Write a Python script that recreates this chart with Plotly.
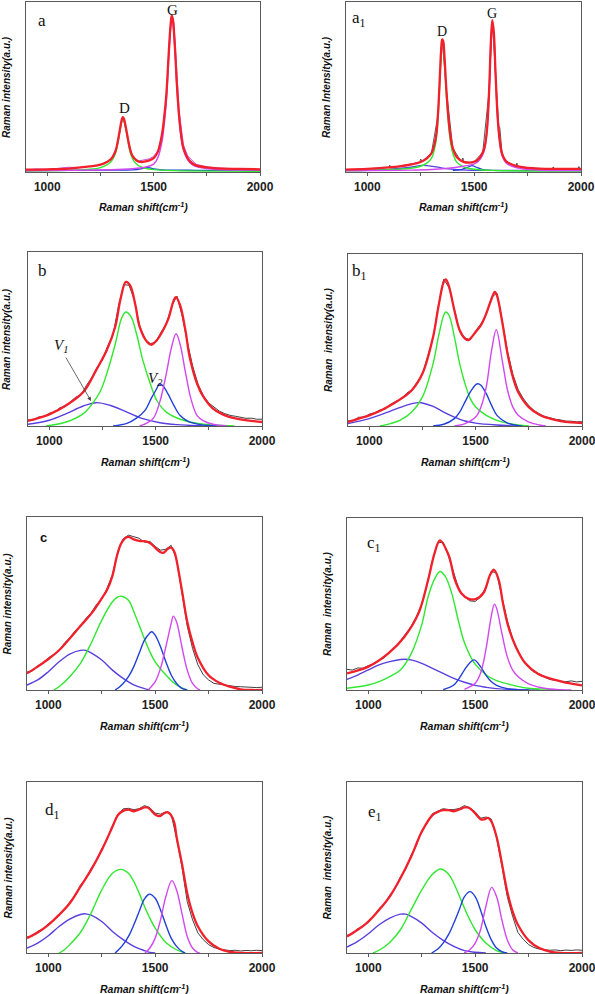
import plotly.graph_objects as go

W, H = 595, 994

# ---------------- data (normalised intensity, 0 = bottom of frame, 100 = top) ----------------
X25 = [900, 925, 950, 975, 1000, 1025, 1050, 1075, 1100, 1125, 1150, 1175, 1200, 1225, 1250,
       1275, 1300, 1325, 1350, 1375, 1400, 1425, 1450, 1475, 1500, 1525, 1550, 1575, 1600,
       1625, 1650, 1675, 1700, 1725, 1750, 1775, 1800, 1825, 1850, 1875, 1900, 1925, 1950,
       1975, 2000]

# panel a
A_FIT_X = [900, 1000, 1100, 1200, 1250, 1280, 1300, 1320, 1330, 1340, 1350, 1355, 1360, 1370, 1380,
           1390, 1400, 1420, 1440, 1460, 1480, 1500, 1520, 1540, 1550, 1560, 1570, 1580, 1585, 1590,
           1600, 1610, 1620, 1630, 1640, 1660, 1680, 1700, 1750, 1800, 1900, 2000]
A_FIT_Y = [1.4, 1.6, 2.0, 3.3, 4.3, 5.9, 7.6, 12, 17, 24, 30.7, 32.2, 31.4, 25.8, 19,
           13, 9.6, 6.8, 5.9, 6.2, 6.8, 8.2, 12, 22.8, 32.6, 46, 67.8, 87, 92, 90,
           73.6, 50, 32.6, 21, 14, 8.2, 5.3, 3.9, 2.7, 2.1, 1.8, 1.6]
A_DATA_X = [900, 950, 1000, 1050, 1100, 1150, 1200, 1250, 1300, 1330, 1355, 1380, 1400, 1430, 1460,
            1480, 1500, 1520, 1540, 1560, 1575, 1585, 1595, 1610, 1620, 1640, 1660, 1700, 1750, 1800,
            1850, 1900, 1950, 2000]
A_DATA_Y = [1.2, 1.8, 1.5, 2.3, 2.8, 2.6, 3.4, 4.0, 7.2, 16, 32.5, 18.5, 9.0, 6.5, 7.4,
            7.8, 9.2, 12.5, 22, 44, 78, 91.5, 88, 53, 36, 16, 9.5, 4.5, 3.0, 2.4,
            2.0, 1.7, 1.9, 1.5]
A_D_X = [900, 1100, 1200, 1250, 1280, 1300, 1320, 1330, 1340, 1350, 1355, 1360, 1370, 1380, 1390,
         1400, 1420, 1440, 1460, 1500, 1600, 1800, 2000]
A_D_Y = [0.6, 1.0, 1.6, 2.6, 4.2, 6.2, 10.8, 15.8, 23, 29.7, 31.2, 30.3, 24.6, 17.6, 11.5,
         8.0, 4.5, 3.0, 2.2, 1.4, 0.8, 0.5, 0.4]
A_V_X = [900, 1000, 1100, 1200, 1300, 1400, 1440, 1470, 1500, 1540, 1600, 1700, 1800, 2000]
A_V_Y = [0.9, 0.9, 1.0, 1.0, 1.1, 1.3, 1.9, 2.7, 1.9, 1.3, 1.1, 1.0, 0.9, 0.9]
A_G_X = [900, 1100, 1300, 1400, 1450, 1500, 1520, 1540, 1550, 1560, 1570, 1580, 1585, 1590, 1600,
         1610, 1620, 1630, 1640, 1660, 1680, 1700, 1750, 1800, 1900, 2000]
A_G_Y = [0.8, 1.0, 1.3, 1.9, 2.6, 4.6, 8.5, 18.5, 28.5, 42.5, 65, 85.5, 91, 89, 72.5,
         49, 31.5, 20, 13, 7.2, 4.4, 3.2, 2.0, 1.5, 1.2, 1.1]

# panel a1
A1_FIT_X = [900, 1000, 1100, 1150, 1200, 1250, 1280, 1300, 1320, 1330, 1340, 1345, 1350, 1355, 1360,
            1370, 1380, 1390, 1400, 1420, 1450, 1480, 1500, 1520, 1540, 1550, 1560, 1570, 1578, 1585,
            1592, 1600, 1610, 1620, 1630, 1650, 1700, 1750, 1800, 1900, 2000]
A1_FIT_Y = [1.4, 1.8, 2.7, 3.3, 4.3, 5.9, 8.2, 11, 20, 33, 58, 71, 78, 77, 70,
            48, 31, 20, 14, 8.5, 6.0, 5.5, 6.0, 7.6, 11.5, 15.5, 25, 48, 76, 89.3,
            82, 58, 32, 18, 11, 6.2, 3.4, 2.4, 2.0, 1.8, 1.8]
A1_DATA_X = [900, 950, 1000, 1050, 1100, 1105, 1110, 1150, 1200, 1245, 1250, 1255, 1300, 1330, 1350,
             1370, 1400, 1440, 1447, 1452, 1480, 1500, 1540, 1570, 1585, 1600, 1608, 1615, 1620, 1625,
             1632, 1650, 1695, 1700, 1705, 1750, 1800, 1865, 1870, 1875, 1950, 1985, 1990, 1995, 2000]
A1_DATA_Y = [1.2, 1.6, 1.8, 2.3, 2.7, 4.0, 2.8, 3.3, 4.5, 5.8, 7.6, 6.1, 11.2, 33, 78,
             48, 14, 6.0, 8.2, 6.1, 5.6, 6.1, 11.5, 48, 89, 60, 40, 27, 26, 17,
             9, 6.2, 3.4, 5.2, 3.3, 2.4, 2.0, 1.8, 3.0, 1.8, 1.8, 1.8, 3.2, 1.8, 1.8]
A1_D_X = [900, 1100, 1200, 1250, 1280, 1300, 1320, 1330, 1340, 1345, 1350, 1355, 1360, 1370, 1380,
          1390, 1400, 1420, 1450, 1500, 1600, 2000]
A1_D_Y = [0.8, 1.3, 2.2, 3.4, 5.4, 8, 17, 30, 55, 68, 75, 74, 67, 45, 28,
          17, 11, 5.5, 3.0, 1.6, 0.9, 0.6]
A1_V1_X = [900, 1000, 1100, 1200, 1260, 1320, 1380, 1440, 1500, 1600, 2000]
A1_V1_Y = [0.8, 1.0, 1.5, 2.8, 3.9, 3.0, 1.8, 1.2, 1.0, 0.9, 0.8]
A1_V2_X = [1400, 1440, 1470, 1490, 1510, 1540, 1580]
A1_V2_Y = [0.9, 1.4, 2.8, 3.8, 2.8, 1.4, 0.9]
A1_G_X = [900, 1200, 1300, 1400, 1450, 1500, 1520, 1540, 1550, 1560, 1570, 1578, 1585, 1592, 1600,
          1610, 1620, 1630, 1650, 1700, 1800, 2000]
A1_G_Y = [0.8, 1.1, 1.5, 2.5, 3.4, 4.8, 6.3, 10, 14, 24, 47, 75, 88.5, 81, 57,
          31, 17, 10, 5.2, 2.5, 1.2, 0.8]

# panel b
B_FIT_X = [900, 1000, 1080, 1160, 1220, 1270, 1310, 1335, 1360, 1380, 1405, 1425, 1460, 1480, 1505,
           1535, 1560, 1585, 1595, 1615, 1640, 1660, 1695, 1725, 1770, 1835, 1900, 2000]
B_FIT_Y = [2.9, 6.7, 11.9, 19.5, 32, 43.5, 57, 73, 82.8, 80.8, 69.4, 56.9, 48.3, 46.7, 49.2,
           55, 61.7, 72.2, 74.1, 69.4, 55, 39.7, 24.3, 16.7, 10, 5.7, 3.8, 2.3]
B_DATA_Y = [3.5, 3.4, 5.2, 5.4, 7.3, 8.0, 10.5, 11.1, 14.0, 16.6, 18.0, 23.4, 27.9, 33.8, 38.0,
            46.0, 52.4, 68.8, 81.2, 80.9, 72.4, 57.5, 49.7, 47.4, 48.0, 53.9, 58.5, 68.7, 74.7,
            63.1, 47.6, 34.0, 23.8, 17.3, 13.2, 10.6, 8.5, 7.1, 6.1, 5.6, 5.1, 4.4, 4.5, 3.9, 3.9]
B_V1_X = [900, 1000, 1080, 1160, 1220, 1285, 1365, 1440, 1520, 1600, 1700, 1800]
B_V1_Y = [1.0, 3.3, 7.1, 11.5, 13.4, 11.9, 8.0, 4.2, 1.9, 0.8, 0.2, 0]
B_D_X = [985, 1080, 1160, 1200, 1240, 1270, 1310, 1340, 1360, 1385, 1410, 1440, 1475, 1505, 1550,
         1630, 1710, 1790, 1870]
B_D_Y = [0, 2.3, 7.1, 12.4, 20, 30, 47, 62, 65.5, 62.6, 53, 37.7, 24.3, 14.8, 8.0,
         3.3, 1.3, 0.4, 0]
B_V2_X = [1300, 1365, 1410, 1450, 1480, 1505, 1518, 1535, 1560, 1585, 1615, 1655, 1710, 1790]
B_V2_Y = [0, 1.5, 4.5, 9, 16, 21.5, 24.3, 23, 18, 12, 6, 2.5, 0.8, 0]
B_G_X = [1425, 1460, 1490, 1520, 1550, 1575, 1596, 1615, 1640, 1665, 1695, 1725, 1770, 1835]
B_G_Y = [0, 1.8, 4.5, 14, 30, 45.4, 53, 47, 31, 16, 6, 3, 1, 0]

# panel b1
B1_FIT_X = [900, 950, 1000, 1050, 1100, 1150, 1200, 1250, 1300, 1325, 1350, 1360, 1375, 1400, 1425,
            1450, 1465, 1475, 1500, 1525, 1550, 1575, 1590, 1600, 1625, 1650, 1675, 1700, 1750, 1800,
            1850, 1900, 1950, 2000]
B1_FIT_Y = [2.3, 4.3, 6.2, 8.7, 12, 15.9, 20.8, 30.5, 51.8, 69.3, 83.8, 85.2, 81, 67.3, 55.7,
            50.8, 49.9, 50.8, 54.7, 58.6, 65.4, 74, 78, 76, 60.5, 42, 28.5, 19.8, 11, 6.6,
            4.3, 2.9, 2.1, 1.7]
B1_DATA_Y = [3.0, 3.0, 5.1, 5.0, 6.9, 7.7, 9.3, 9.9, 12.6, 14.4, 15.5, 19.0, 21.1, 25.7, 30.0,
             40.8, 51.2, 70.0, 85.3, 80.5, 68.1, 55.1, 51.2, 50.1, 55.3, 59.4, 64.9, 74.9, 77.2,
             61.4, 43.2, 30.0, 21.1, 15.8, 11.8, 8.9, 7.1, 5.5, 4.8, 3.9, 3.5, 2.8, 2.8, 2.4, 2.5]
B1_V1_X = [900, 1000, 1100, 1150, 1200, 1235, 1250, 1300, 1350, 1400, 1450, 1500, 1600, 1700]
B1_V1_Y = [1.4, 4.3, 8.7, 11, 13, 13.6, 13.4, 11.4, 8.1, 5.2, 2.9, 1.7, 0.6, 0]
B1_D_X = [1050, 1100, 1150, 1200, 1250, 1300, 1325, 1350, 1360, 1375, 1400, 1425, 1450, 1475, 1500,
          1550, 1600, 1650, 1700, 1750]
B1_D_Y = [0, 1.4, 3.7, 8.1, 16.9, 36.3, 51.8, 64.4, 66.3, 64.4, 51.8, 36.3, 24.6, 15.9, 11,
          6.2, 3.3, 1.7, 0.6, 0]
B1_V2_X = [1300, 1350, 1400, 1425, 1450, 1475, 1500, 1510, 1525, 1550, 1575, 1600, 1650, 1700, 1720]
B1_V2_Y = [0, 1, 4.3, 8.1, 14, 19.8, 24, 24.6, 23.7, 18.8, 12, 6.2, 1.7, 0.2, 0]
B1_G_X = [1400, 1450, 1500, 1525, 1550, 1575, 1597, 1625, 1650, 1675, 1700, 1750, 1800, 1830]
B1_G_Y = [0, 1.4, 5.2, 11, 22.7, 44, 56, 38.2, 20.8, 11, 6.2, 2.3, 0.6, 0]

# panel c
C_FIT_X = [900, 950, 1000, 1050, 1100, 1150, 1200, 1250, 1275, 1300, 1320, 1340, 1360, 1375, 1400,
           1425, 1450, 1475, 1500, 1525, 1540, 1560, 1575, 1590, 1600, 1625, 1650, 1675, 1700, 1750,
           1800, 1850, 1900, 1950, 2000]
C_FIT_Y = [9.6, 13.5, 17.9, 23, 29.8, 37, 44, 53, 58, 66, 77, 84.5, 87.8, 88.5, 87.1,
           86.2, 86, 85, 82.3, 79.6, 79.4, 81.7, 82.3, 79.8, 75, 57.7, 39.5, 27.5, 18.5, 8.5,
           4.2, 1.9, 0.4, 0, 0]
C_DATA_Y = [10.4, 11.1, 14.1, 15.4, 18.6, 20.8, 22.5, 27.1, 30.1, 34.2, 36.6, 41.3, 44.5, 49.4, 52.6,
            58.8, 66.7, 80.1, 87.4, 89.5, 88.4, 87.7, 85.4, 85.9, 83.0, 80.8, 81.4, 83.6, 75.5,
            56.5, 37.0, 24.0, 14.5, 8.8, 5.8, 3.8, 3.4, 2.6, 2.4, 2.0, 1.9, 1.7, 1.8, 1.4, 1.6]
C_V1_X = [900, 950, 1000, 1050, 1100, 1150, 1175, 1200, 1250, 1300, 1350, 1400, 1450, 1475]
C_V1_Y = [2.9, 5.8, 10.6, 16.3, 20.8, 22.9, 22.9, 21.5, 17.3, 11.5, 6.7, 2.9, 0.8, 0]
C_D_X = [1025, 1050, 1100, 1150, 1200, 1250, 1300, 1325, 1344, 1375, 1400, 1425, 1450, 1475, 1500,
         1550, 1600, 1650]
C_D_Y = [0, 1.9, 7.7, 15.4, 26.9, 40.4, 51, 53.8, 54.2, 51.9, 45.2, 37.5, 29.5, 22.1, 16.3,
         8.7, 2.9, 0]
C_V2_X = [1312, 1325, 1350, 1375, 1400, 1425, 1450, 1475, 1484, 1500, 1525, 1550, 1575, 1600, 1625, 1650]
C_V2_Y = [0, 1, 3.8, 7.7, 13.5, 21.2, 28.8, 33, 33.7, 31.7, 25, 16.3, 8.7, 3.8, 1, 0]
C_G_X = [1468, 1475, 1500, 1525, 1550, 1575, 1585, 1600, 1625, 1650, 1675, 1700, 1710]
C_G_Y = [0, 1, 4.8, 12.5, 25, 38.5, 42.7, 39.4, 25, 11.5, 3.8, 0.6, 0]

# panel c1
C1_FIT_X = [900, 1000, 1095, 1170, 1235, 1280, 1310, 1335, 1375, 1405, 1435, 1470, 1505, 1540, 1570,
            1588, 1610, 1630, 1655, 1690, 1735, 1795, 1905, 2000]
C1_FIT_Y = [9.7, 13.6, 21.4, 31.1, 44.7, 64.1, 79.6, 87, 78.6, 64.1, 56.3, 53, 53, 56.7, 67,
            69.9, 64.1, 50.5, 36.9, 25.2, 15.5, 9.3, 4.9, 2.7]
C1_DATA_Y = [12.0, 11.6, 12.8, 12.6, 14.2, 15.0, 17.0, 18.8, 22.4, 24.4, 28.5, 32.6, 37.0, 42.8, 50.0,
             61.5, 75.5, 85.5, 86.0, 78.0, 67.5, 58.0, 54.2, 51.8, 51.5, 54.0, 59.8, 69.0, 68.0,
             54.5, 40.5, 30.0, 22.8, 17.0, 13.2, 10.4, 9.5, 7.4, 6.1, 5.6, 5.4, 4.8, 5.3, 4.7, 5.0]
C1_V1_X = [900, 950, 1000, 1050, 1100, 1150, 1170, 1200, 1250, 1300, 1350, 1400, 1450, 1500, 1550,
           1600, 1700, 1800]
C1_V1_Y = [6.2, 8.7, 11.7, 14.6, 16.5, 17.7, 17.9, 17.5, 15.5, 12.6, 9.7, 6.8, 4.5, 2.7, 1.6,
           0.8, 0.2, 0]
C1_D_X = [900, 1000, 1050, 1100, 1150, 1200, 1250, 1280, 1312, 1335, 1360, 1390, 1420, 1450, 1500,
          1560, 1600, 1670, 1750, 1830, 1900]
C1_D_Y = [1, 2.9, 4.9, 7.8, 11.7, 21, 38, 54.4, 65, 68.9, 66, 56.3, 41, 27.5, 15,
          8, 5.5, 3, 1, 0.5, 0]
C1_V2_X = [1350, 1400, 1425, 1450, 1475, 1496, 1525, 1550, 1575, 1600, 1650, 1700, 1750]
C1_V2_Y = [0.2, 2.9, 6.8, 11.7, 15.9, 17.5, 13.6, 8.7, 4.9, 2.7, 0.8, 0.2, 0]
C1_G_X = [1450, 1500, 1525, 1550, 1575, 1590, 1600, 1625, 1650, 1675, 1700, 1750, 1800, 1850, 1900, 1950]
C1_G_Y = [0.4, 3.9, 9.7, 23.3, 42.7, 49.9, 47.6, 33, 19.4, 11.7, 7.8, 3.5, 1.6, 0.6, 0.2, 0]

# panel d1
D1_FIT_X = [900, 950, 1000, 1050, 1100, 1150, 1200, 1250, 1300, 1325, 1350, 1375, 1400, 1425, 1450,
            1465, 1480, 1500, 1520, 1540, 1560, 1575, 1590, 1600, 1625, 1650, 1675, 1700, 1750, 1800,
            1850, 1900, 2000]
D1_FIT_Y = [8.7, 12, 16.5, 22.3, 29.1, 38.8, 48.6, 60.2, 73.8, 80.6, 83.1, 83.9, 82.9, 83.9, 85.1,
            85.1, 83.5, 81, 80, 81.6, 82.3, 80.5, 76, 68, 52.4, 35, 23.3, 15.5, 6.8, 2.5,
            0.6, 0, 0]
D1_DATA_Y = [9.3, 10.0, 12.7, 13.9, 17.2, 19.0, 22.9, 25.3, 29.8, 33.4, 39.6, 43.3, 49.4, 54.2, 61.0,
             66.5, 74.5, 80.8, 84.3, 84.6, 83.8, 84.4, 86.2, 85.0, 81.8, 81.2, 82.5, 81.0, 67.0,
             50.5, 30.0, 19.4, 11.7, 7.8, 4.9, 3.2, 2.3, 1.8, 1.4, 1.6, 1.2, 1.5, 1.3, 1.6, 1.4]
D1_V1_X = [900, 950, 1000, 1050, 1100, 1150, 1175, 1200, 1250, 1300, 1350, 1400, 1450, 1475, 1500]
D1_V1_Y = [2.9, 5.8, 10.1, 15.5, 19.8, 22.5, 22.9, 22.1, 18.4, 12.6, 7.8, 3.9, 1.4, 0.4, 0]
D1_D_X = [1050, 1075, 1100, 1150, 1200, 1250, 1300, 1340, 1375, 1400, 1425, 1450, 1475, 1500, 1550,
          1600, 1640]
D1_D_Y = [0, 1.9, 4.9, 12, 23.3, 36.9, 46.6, 48.9, 46.6, 41.8, 35, 27.2, 20.4, 14.6, 6.2,
          1.9, 0]
D1_V2_X = [1312, 1325, 1350, 1375, 1400, 1425, 1450, 1473, 1500, 1525, 1550, 1575, 1600, 1625, 1640]
D1_V2_Y = [0, 1.4, 4.9, 9.7, 16.5, 24.3, 31.7, 34.4, 32, 25.2, 16.5, 8.7, 3.9, 1, 0]
D1_G_X = [1452, 1475, 1500, 1525, 1550, 1578, 1600, 1625, 1650, 1675, 1700, 1710]
D1_G_Y = [0, 2.9, 8.7, 19.4, 33, 42.3, 36.9, 23.3, 9.7, 2.9, 0.2, 0]

# panel e1
E1_FIT_X = [900, 950, 1000, 1050, 1100, 1150, 1200, 1250, 1300, 1325, 1350, 1375, 1400, 1425, 1450,
            1465, 1480, 1500, 1525, 1540, 1560, 1575, 1600, 1625, 1650, 1675, 1700, 1750, 1800, 1850,
            1900, 2000]
E1_FIT_Y = [9.7, 13.6, 18.4, 25.2, 33, 43.7, 56.3, 70.9, 80.6, 82.5, 83.5, 83.5, 82.9, 83.9, 85.1,
            85.1, 84.1, 81.6, 78.3, 78.1, 79, 77.1, 68, 52.4, 35.9, 24.3, 16.5, 7.4, 2.9, 0.8,
            0, 0]
E1_DATA_Y = [10.3, 11.2, 14.2, 15.5, 19.0, 21.3, 26.0, 28.6, 33.8, 37.8, 44.5, 49.0, 57.2, 62.9, 71.7,
             75.8, 81.5, 82.9, 84.4, 83.9, 83.9, 84.5, 86.2, 84.9, 82.6, 78.8, 79.5, 78.4, 67.5,
             51.0, 33.0, 21.5, 12.0, 8.0, 4.9, 3.2, 2.3, 1.9, 1.6, 1.8, 1.4, 1.7, 1.5, 1.8, 1.6]
E1_V1_X = [900, 950, 1000, 1050, 1100, 1150, 1175, 1200, 1250, 1300, 1350, 1400, 1450, 1500, 1550]
E1_V1_Y = [3.5, 6.8, 11.3, 16.5, 20.4, 22.7, 22.7, 21.4, 17.5, 12, 7.4, 3.9, 1.4, 0.4, 0]
E1_D_X = [1022, 1050, 1100, 1150, 1200, 1250, 1300, 1338, 1375, 1400, 1425, 1450, 1475, 1500, 1550,
          1600, 1640]
E1_D_Y = [0, 1.6, 6.2, 13.6, 25.2, 36.9, 46, 49.1, 46.2, 40.8, 33.6, 26.2, 19.4, 13.6, 5.8,
          1.4, 0]
E1_V2_X = [1296, 1325, 1350, 1375, 1400, 1425, 1450, 1476, 1500, 1525, 1550, 1575, 1600, 1625, 1650]
E1_V2_Y = [0, 2.3, 5.8, 10.7, 17.5, 25.2, 33, 35.9, 33, 25.2, 15.5, 7.8, 2.9, 0.8, 0]
E1_G_X = [1448, 1475, 1500, 1525, 1550, 1577, 1600, 1625, 1650, 1675, 1700]
E1_G_Y = [0, 1.9, 5.8, 13.6, 27.2, 38.4, 33, 19.4, 7.8, 1.9, 0]

X_RANGE = [900, 2000]
Y_RANGE = [0, 100]

# ---------------- styles ----------------
RED = "#f2202a"
GREEN = "#2fe82f"
VIOLET = "#5a3fe0"
BLUE = "#2140d8"
MAGENTA = "#d248f0"
BLACK = "#2a2a2a"
DATA_A = "#c555f2"
FRAME = "#5a5a5a"
SANS = "Liberation Sans, Arial, sans-serif"
SERIF = "Liberation Serif, Times New Roman, serif"

# frames in pixels: left, right, top, bottom
BOXES = [
    (26, 260, 2, 172),     # a
    (346, 581, 2, 172),    # a1
    (28, 262, 252, 426),   # b
    (348, 582, 254, 426),  # b1
    (27, 262, 517, 690),   # c
    (347, 582, 518, 690),  # c1
    (27, 262, 782, 953),   # d1
    (347, 582, 782, 953),  # e1
]


def px(x):
    return x / W


def py(y):
    return 1 - y / H


fig = go.Figure()


def ids(i):
    return ("x" if i == 1 else f"x{i}", "y" if i == 1 else f"y{i}")


def line(i, x, y, color, width, shape="spline"):
    xa, ya = ids(i)
    fig.add_trace(go.Scatter(x=x, y=y, mode="lines", xaxis=xa, yaxis=ya,
                             line=dict(color=color, width=width, shape=shape, smoothing=1.0),
                             showlegend=False, hoverinfo="skip"))


# panel a
line(1, A_DATA_X, A_DATA_Y, DATA_A, 1.0, "linear")
line(1, A_V_X, A_V_Y, BLUE, 1.3)
line(1, A_D_X, A_D_Y, GREEN, 1.4)
line(1, A_G_X, A_G_Y, MAGENTA, 1.5)
line(1, A_FIT_X, A_FIT_Y, RED, 2.3)
# panel a1
line(2, A1_DATA_X, A1_DATA_Y, BLACK, 0.8, "linear")
line(2, A1_V1_X, A1_V1_Y, VIOLET, 1.3)
line(2, A1_V2_X, A1_V2_Y, BLUE, 1.3)
line(2, A1_D_X, A1_D_Y, GREEN, 1.4)
line(2, A1_G_X, A1_G_Y, MAGENTA, 1.4)
line(2, A1_FIT_X, A1_FIT_Y, RED, 2.3)

broad = [
    (3, B_DATA_Y, B_V1_X, B_V1_Y, B_D_X, B_D_Y, B_V2_X, B_V2_Y, B_G_X, B_G_Y, B_FIT_X, B_FIT_Y),
    (4, B1_DATA_Y, B1_V1_X, B1_V1_Y, B1_D_X, B1_D_Y, B1_V2_X, B1_V2_Y, B1_G_X, B1_G_Y, B1_FIT_X, B1_FIT_Y),
    (5, C_DATA_Y, C_V1_X, C_V1_Y, C_D_X, C_D_Y, C_V2_X, C_V2_Y, C_G_X, C_G_Y, C_FIT_X, C_FIT_Y),
    (6, C1_DATA_Y, C1_V1_X, C1_V1_Y, C1_D_X, C1_D_Y, C1_V2_X, C1_V2_Y, C1_G_X, C1_G_Y, C1_FIT_X, C1_FIT_Y),
    (7, D1_DATA_Y, D1_V1_X, D1_V1_Y, D1_D_X, D1_D_Y, D1_V2_X, D1_V2_Y, D1_G_X, D1_G_Y, D1_FIT_X, D1_FIT_Y),
    (8, E1_DATA_Y, E1_V1_X, E1_V1_Y, E1_D_X, E1_D_Y, E1_V2_X, E1_V2_Y, E1_G_X, E1_G_Y, E1_FIT_X, E1_FIT_Y),
]
for (i, dy, v1x, v1y, dx, dyy, v2x, v2y, gx, gy, fx, fy) in broad:
    line(i, X25, dy, BLACK, 0.9, "linear")
    line(i, v1x, v1y, VIOLET, 1.4)
    line(i, dx, dyy, GREEN, 1.4)
    line(i, v2x, v2y, BLUE, 1.4)
    line(i, gx, gy, MAGENTA, 1.4)
    line(i, fx, fy, RED, 2.3)

# ---------------- axes ----------------
layout = dict(width=W, height=H, margin=dict(l=0, r=0, t=0, b=0, pad=0), autosize=False,
              template="none", paper_bgcolor="white", plot_bgcolor="white", showlegend=False)
for i, (l, r, t, b) in enumerate(BOXES, start=1):
    xa, ya = ids(i)
    xkey = "xaxis" if i == 1 else f"xaxis{i}"
    ykey = "yaxis" if i == 1 else f"yaxis{i}"
    layout[xkey] = dict(domain=[px(l), px(r)], range=X_RANGE, anchor=ya, automargin=False,
                        showline=True, mirror=True, linecolor=FRAME, linewidth=1.2,
                        ticks="outside", ticklen=3, tickcolor=FRAME, tickwidth=1,
                        tick0=0, dtick=500, showgrid=False, zeroline=False,
                        minor=dict(dtick=250, ticks="outside", ticklen=3, tickcolor=FRAME,
                                   tickwidth=1, showgrid=False),
                        tickfont=dict(family=SANS, size=12, color="#222", weight="bold"),
                        ticklabelstandoff=0, ticklabeloverflow="allow")
    layout[ykey] = dict(domain=[py(b), py(t)], range=Y_RANGE, anchor=xa, automargin=False,
                        showline=True, mirror=True, linecolor=FRAME, linewidth=1.2,
                        ticks="", showticklabels=False, showgrid=False, zeroline=False)
fig.update_layout(**layout)

# ---------------- text ----------------
ann = []


def text(x, y, txt, font, angle=0):
    ann.append(dict(x=px(x), y=py(y), xref="paper", yref="paper", text=txt, showarrow=False,
                    xanchor="center", yanchor="middle", textangle=angle, font=font))


YTITLES = ["Raman intensity(a.u.)", "Raman Intensity(a.u.)",
           "Raman intensity(a.u.)", "Raman\u00a0 intensity(a.u.)",
           "Raman intensity(a.u.)", "Raman\u00a0 intensity(a.u.)",
           "Raman intensity(a.u.)", "Raman\u00a0 intensity(a.u.)"]
YTITLE_X = [7, 327, 7, 328, 7, 327, 8, 327]
TITLE_FONT = dict(family=SANS, size=10.5, color="#111", weight="bold", style="italic")
for i, (l, r, t, b) in enumerate(BOXES):
    text((l + r) / 2, b + 35, "Raman shift(cm<sup>-1</sup>)", TITLE_FONT)
    text(YTITLE_X[i], (t + b) / 2, YTITLES[i], dict(TITLE_FONT, size=10), -90)

LABELS = [
    ("a", 42, 21, SERIF, 17, "normal"),
    ("G", 172, 10, SERIF, 15, "normal"),
    ("D", 124, 108, SERIF, 15, "normal"),
    ("a<sub>1</sub>", 359, 19, SERIF, 17, "normal"),
    ("D", 442, 32, SERIF, 14, "normal"),
    ("G", 492, 13, SERIF, 14, "normal"),
    ("b", 42, 270, SERIF, 17, "normal"),
    ("b<sub>1</sub>", 359, 272, SERIF, 17, "normal"),
    ("c", 43, 537, SANS, 13, "bold"),
    ("c<sub>1</sub>", 374, 544, SERIF, 17, "normal"),
    ("d<sub>1</sub>", 52, 811, SERIF, 17, "normal"),
    ("e<sub>1</sub>", 375, 813, SERIF, 17, "normal"),
]
for (txt, x, y, fam, size, wt) in LABELS:
    text(x, y, txt, dict(family=fam, size=size, color="#111", weight=wt))

# v1 / v2 in panel b
text(61, 346, "<i>V</i><sub><i>1</i></sub>", dict(family=SERIF, size=15, color="#111"))
text(155, 379, "<i>V</i><sub><i>2</i></sub>", dict(family=SERIF, size=15, color="#111"))
ann.append(dict(x=px(91), y=py(401), xref="paper", yref="paper", text="", showarrow=True,
                ax=-26, ay=-45, arrowhead=2, arrowsize=1, arrowwidth=0.8, arrowcolor="#444",
                standoff=0))
fig.update_layout(annotations=ann)

fig.write_html("out.html", config={"displayModeBar": False, "staticPlot": True},
               post_script="document.body.style.margin='0';document.body.style.padding='0';")
